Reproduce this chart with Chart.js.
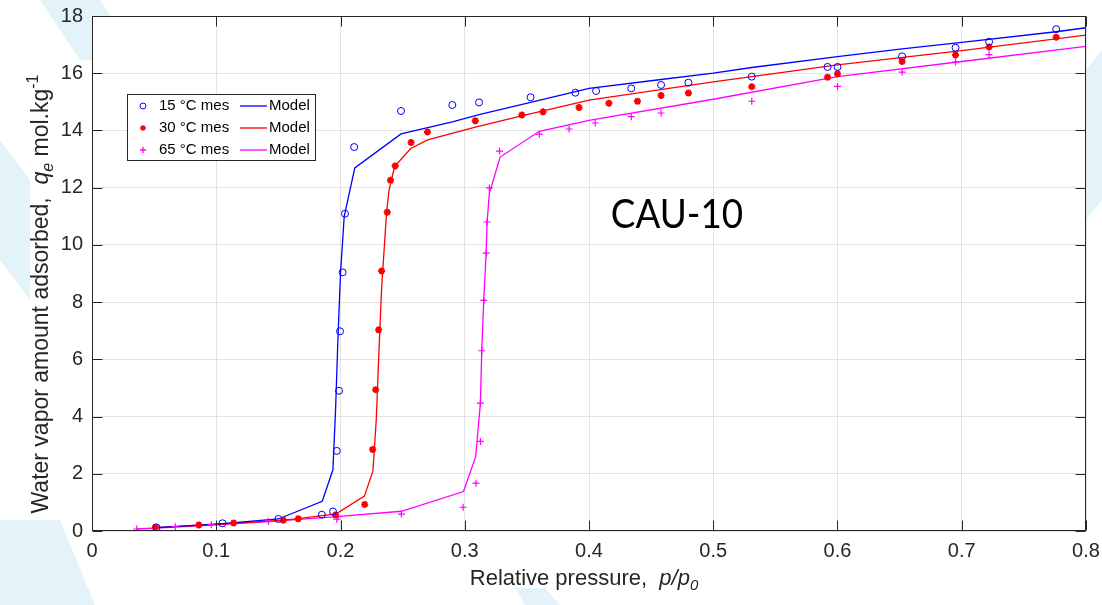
<!DOCTYPE html>
<html>
<head>
<meta charset="utf-8">
<script src="https://cdn.jsdelivr.net/npm/chart.js@4.4.0/dist/chart.umd.min.js"></script>
<style>
  html, body { margin: 0; padding: 0; background: #fff; }
  #wrap { width: 1102px; height: 605px; }
</style>
</head>
<body>
<div id="wrap"><canvas id="iso-canvas" width="1102" height="605"></canvas></div>
<script>
"use strict";

// measured points, 15 / 30 / 65 degC
var p15 = [0.052, 0.105, 0.150, 0.185, 0.194, 0.197, 0.1988, 0.1996, 0.2017, 0.2036, 0.211, 0.2487, 0.290, 0.3115, 0.353, 0.389, 0.4057, 0.434, 0.458, 0.480, 0.531, 0.592, 0.600, 0.652, 0.695, 0.722, 0.776];
var q15 = [0.12, 0.27, 0.42, 0.57, 0.68, 2.8, 4.9, 6.98, 9.04, 11.09, 13.42, 14.68, 14.89, 14.98, 15.16, 15.32, 15.38, 15.47, 15.59, 15.67, 15.88, 16.22, 16.22, 16.59, 16.89, 17.1, 17.54];

var p30 = [0.051, 0.086, 0.114, 0.154, 0.166, 0.196, 0.2195, 0.2259, 0.2283, 0.2307, 0.2331, 0.2376, 0.2403, 0.244, 0.2568, 0.270, 0.3085, 0.346, 0.363, 0.392, 0.416, 0.439, 0.458, 0.480, 0.531, 0.592, 0.600, 0.652, 0.695, 0.722, 0.776];
var q30 = [0.13, 0.21, 0.28, 0.38, 0.43, 0.56, 0.93, 2.85, 4.94, 7.03, 9.09, 11.14, 12.26, 12.76, 13.58, 13.95, 14.34, 14.54, 14.65, 14.8, 14.95, 15.02, 15.22, 15.31, 15.53, 15.86, 15.98, 16.41, 16.64, 16.92, 17.26];

var p65 = [0.036, 0.067, 0.096, 0.142, 0.197, 0.198, 0.249, 0.2987, 0.309, 0.3126, 0.3126, 0.3137, 0.3153, 0.3172, 0.318, 0.3198, 0.328, 0.360, 0.384, 0.405, 0.434, 0.458, 0.531, 0.600, 0.652, 0.695, 0.722];
var q65 = [0.07, 0.15, 0.22, 0.34, 0.41, 0.5, 0.59, 0.83, 1.67, 3.13, 4.47, 6.30, 8.06, 9.71, 10.8, 11.99, 13.28, 13.87, 14.05, 14.26, 14.48, 14.61, 15.02, 15.54, 16.04, 16.39, 16.65];

// model curves
var m15x = [0.052, 0.105, 0.150, 0.1853, 0.1939, 0.196, 0.198, 0.200, 0.203, 0.2115, 0.2487, 0.290, 0.3115, 0.353, 0.400, 0.458, 0.500, 0.531, 0.600, 0.652, 0.700, 0.776, 0.800];
var m15y = [0.12, 0.26, 0.42, 1.04, 2.14, 4.2, 6.8, 9.0, 11.0, 12.69, 13.88, 14.3, 14.55, 14.98, 15.47, 15.78, 16.0, 16.2, 16.58, 16.85, 17.08, 17.45, 17.59];

var m30x = [0.051, 0.086, 0.114, 0.154, 0.166, 0.1965, 0.2192, 0.2261, 0.2288, 0.2307, 0.2331, 0.2371, 0.239, 0.2435, 0.2565, 0.2701, 0.3085, 0.345, 0.400, 0.500, 0.600, 0.700, 0.800];
var m30y = [0.12, 0.2, 0.27, 0.38, 0.43, 0.6, 1.22, 2.09, 3.9, 6.0, 8.5, 11.15, 11.9, 12.74, 13.37, 13.67, 14.12, 14.5, 15.06, 15.7, 16.29, 16.79, 17.33];

var m65x = [0.036, 0.067, 0.096, 0.142, 0.197, 0.249, 0.299, 0.3088, 0.3126, 0.3137, 0.3153, 0.3172, 0.318, 0.3198, 0.3285, 0.360, 0.400, 0.500, 0.600, 0.700, 0.800];
var m65y = [0.07, 0.14, 0.21, 0.33, 0.5, 0.69, 1.38, 2.6, 4.47, 6.3, 8.06, 9.7, 10.8, 11.8, 13.07, 13.97, 14.35, 15.09, 15.88, 16.41, 16.94];

var xTicks = [0, 0.1, 0.2, 0.3, 0.4, 0.5, 0.6, 0.7, 0.8];
var yTicks = [0, 2, 4, 6, 8, 10, 12, 14, 16, 18];

var seriesNames = ["15 °C mes", "30 °C mes", "65 °C mes"];
var modelName = "Model";
var panelName = "CAU-10";

function pts(xs, ys) {
  return xs.map(function (x, i) { return { x: x, y: ys[i] }; });
}

var BLUE = "#0000ff", RED = "#ff0000", MAG = "#ff00ff";
var FONT = "'Liberation Sans', Arial, sans-serif";

function measured(label, data, color, style, bw) {
  return {
    label: label, data: data, showLine: false,
    pointStyle: style, pointRadius: 3.5, pointBorderWidth: bw,
    borderColor: color, backgroundColor: style === "circle" ? "rgba(0,0,0,0)" : color,
    pointBorderColor: color, pointBackgroundColor: style === "circle" ? "rgba(0,0,0,0)" : color,
    order: 1
  };
}
function model(data, color) {
  return {
    label: modelName, data: data, showLine: true, fill: false,
    borderColor: color, borderWidth: 1.3, pointRadius: 0, tension: 0,
    order: 2
  };
}

function noPad(s) {
  s.paddingLeft = 0; s.paddingRight = 0; s.paddingTop = 0; s.paddingBottom = 0;
}

// light watermark shapes behind the axes
var watermark = {
  id: "watermark",
  beforeDraw: function (chart) {
    var ctx = chart.ctx;
    ctx.save();
    ctx.fillStyle = "#e4f3f9";
    var polys = [
      [[40, 0], [100, 0], [140, 60], [80, 60]],
      [[0, 140], [30, 180], [30, 300], [0, 260]],
      [[0, 520], [60, 520], [95, 605], [0, 605]],
      [[515, 588], [545, 588], [560, 605], [525, 605]],
      [[1086, 70], [1102, 50], [1102, 200], [1086, 220]]
    ];
    polys.forEach(function (p) {
      ctx.beginPath();
      ctx.moveTo(p[0][0], p[0][1]);
      for (var i = 1; i < p.length; i++) ctx.lineTo(p[i][0], p[i][1]);
      ctx.closePath();
      ctx.fill();
    });
    var a = chart.chartArea;
    ctx.fillStyle = "#fff";
    ctx.fillRect(a.left, a.top, a.right - a.left, a.bottom - a.top);
    ctx.restore();
  }
};

// box, inward ticks
var frame = {
  id: "frame",
  afterDatasetsDraw: function (chart) {
    var ctx = chart.ctx, a = chart.chartArea;
    var xs = chart.scales.x, ys = chart.scales.y;
    var L = Math.round(a.left) + 0.5, R = Math.round(a.right) - 0.5;
    var T = Math.round(a.top) + 0.5, B = Math.round(a.bottom) - 0.5;
    ctx.save();
    ctx.strokeStyle = "#262626";
    ctx.lineWidth = 1;
    ctx.strokeRect(L, T, R - L, B - T);
    ctx.beginPath();
    xTicks.forEach(function (v) {
      var px = Math.round(xs.getPixelForValue(v)) + 0.5;
      ctx.moveTo(px, B); ctx.lineTo(px, B - 10);
      ctx.moveTo(px, T); ctx.lineTo(px, T + 10);
    });
    yTicks.forEach(function (v) {
      var py = Math.round(ys.getPixelForValue(v)) + 0.5;
      ctx.moveTo(L, py); ctx.lineTo(L + 10, py);
      ctx.moveTo(R, py); ctx.lineTo(R - 10, py);
    });
    ctx.stroke();
    ctx.restore();
  }
};

function drawRuns(ctx, runs) {
  var x = 0;
  runs.forEach(function (r) {
    ctx.font = r.font;
    ctx.fillText(r.t, x, r.dy || 0);
    x += ctx.measureText(r.t).width;
  });
  return x;
}
function runsWidth(ctx, runs) {
  var w = 0;
  runs.forEach(function (r) { ctx.font = r.font; w += ctx.measureText(r.t).width; });
  return w;
}

var labels = {
  id: "labels",
  afterDraw: function (chart) {
    var ctx = chart.ctx;
    ctx.save();
    ctx.fillStyle = "#262626";
    ctx.textBaseline = "alphabetic";
    ctx.textAlign = "left";

    // x title
    var xr = [
      { t: "Relative pressure,  ", font: "22px " + FONT },
      { t: "p/p", font: "italic 22px " + FONT },
      { t: "0", font: "italic 15px " + FONT, dy: 5 }
    ];
    var w = runsWidth(ctx, xr);
    ctx.save();
    ctx.translate(584 - w / 2, 585);
    drawRuns(ctx, xr);
    ctx.restore();

    // y title
    var yr = [
      { t: "Water vapor amount adsorbed,  ", font: "23px " + FONT },
      { t: "q", font: "italic 23px " + FONT },
      { t: "e", font: "italic 16px " + FONT, dy: 5 },
      { t: " mol.kg", font: "23px " + FONT },
      { t: "-1", font: "16px " + FONT, dy: -10 }
    ];
    w = runsWidth(ctx, yr);
    ctx.save();
    ctx.translate(48, 294 + w / 2);
    ctx.rotate(-Math.PI / 2);
    drawRuns(ctx, yr);
    ctx.restore();

    // panel name
    ctx.save();
    ctx.fillStyle = "#000";
    ctx.font = "40px Lato, 'Open Sans', sans-serif";
    ctx.textAlign = "center";
    ctx.translate(677, 228);
    ctx.scale(0.92, 1);
    ctx.fillText(panelName, 0, 0);
    ctx.restore();

    // legend
    ctx.fillStyle = "#fff";
    ctx.fillRect(127.5, 94.5, 188, 66);
    ctx.strokeStyle = "#262626";
    ctx.lineWidth = 1;
    ctx.strokeRect(127.5, 94.5, 188, 66);
    var rows = [106, 128, 150];
    var cols = [BLUE, RED, MAG];
    var styles = [["circle", 1], ["star", 2], ["cross", 1]];
    ctx.textBaseline = "middle";
    ctx.textAlign = "left";
    ctx.font = "15px " + FONT;
    rows.forEach(function (y, i) {
      ctx.strokeStyle = cols[i];
      ctx.fillStyle = i === 0 ? "rgba(0,0,0,0)" : cols[i];
      Chart.helpers.drawPoint(ctx, { pointStyle: styles[i][0], radius: 3, borderWidth: styles[i][1], rotation: 0 }, 143, y);
      ctx.beginPath();
      ctx.lineWidth = 1.3;
      ctx.moveTo(240, y); ctx.lineTo(267, y);
      ctx.stroke();
      ctx.fillStyle = "#000";
      ctx.fillText(seriesNames[i], 159, y);
      ctx.fillText(modelName, 269, y);
    });
    ctx.restore();
  }
};

var isoCanvas = document.getElementById("iso-canvas");

var isoChart = new Chart(isoCanvas, {
  type: "scatter",
  data: {
    datasets: [
      measured(seriesNames[0], pts(p15, q15), BLUE, "circle", 1),
      model(pts(m15x, m15y), BLUE),
      measured(seriesNames[1], pts(p30, q30), RED, "star", 2),
      model(pts(m30x, m30y), RED),
      measured(seriesNames[2], pts(p65, q65), MAG, "cross", 1.2),
      model(pts(m65x, m65y), MAG)
    ]
  },
  options: {
    responsive: false,
    animation: false,
    devicePixelRatio: 1,
    layout: { padding: { left: 0, right: 16, top: 16, bottom: 0 } },
    plugins: {
      legend: { display: false },
      tooltip: { enabled: false }
    },
    scales: {
      x: {
        type: "linear", min: 0, max: 0.8,
        afterFit: function (s) { s.height = 74; noPad(s); },
        afterBuildTicks: function (s) { s.ticks = xTicks.map(function (v) { return { value: v }; }); },
        grid: { color: "#e3e3e3", drawTicks: false },
        border: { display: false },
        ticks: {
          padding: 8, color: "#262626",
          font: { family: FONT, size: 20 },
          callback: function (v) { return String(Number(v.toFixed(1))); }
        }
      },
      y: {
        type: "linear", min: 0, max: 18,
        afterFit: function (s) { s.width = 92; noPad(s); },
        afterBuildTicks: function (s) { s.ticks = yTicks.map(function (v) { return { value: v }; }); },
        grid: { color: "#e3e3e3", drawTicks: false },
        border: { display: false },
        ticks: {
          padding: 9, color: "#262626",
          font: { family: FONT, size: 20 }
        }
      }
    }
  },
  plugins: [watermark, frame, labels]
});
</script>
</body>
</html>
